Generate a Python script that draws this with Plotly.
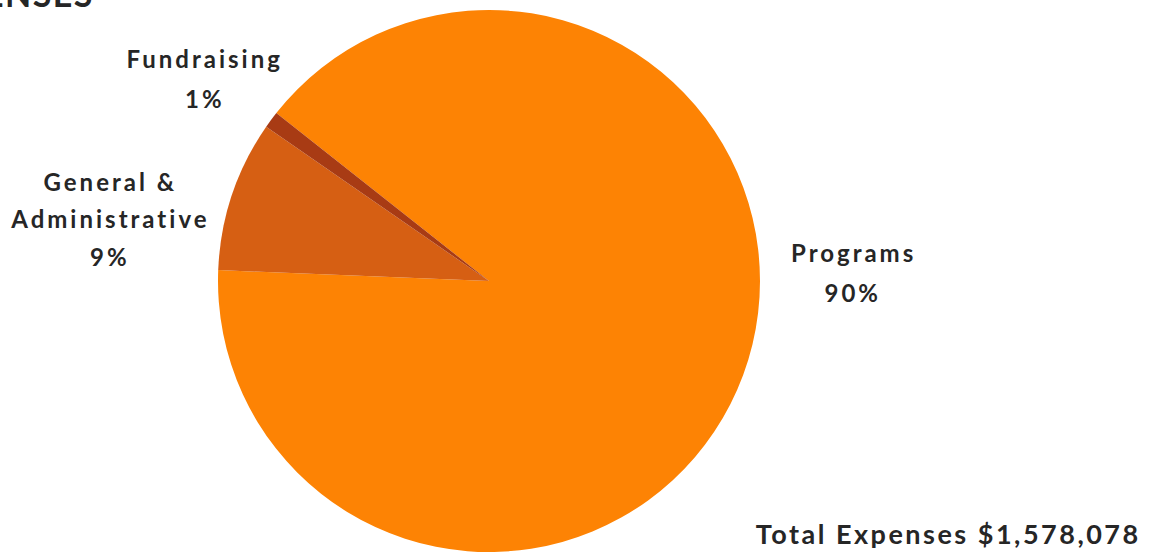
import plotly.graph_objects as go

categories = ["Programs", "General & Administrative", "Fundraising"]
values = [90, 9, 1]
colors = ["#FD8304", "#D65F13", "#A83B14"]
label_lines = [["Programs", "90%"], ["General &", "Administrative", "9%"], ["Fundraising", "1%"]]
title_text = "EXPENSES"
total_text = "Total Expenses $1,578,078"

W, H = 1159, 552
font_family = "Lato, 'Open Sans', sans-serif"
text_color = "#262626"

fig = go.Figure()
fig.add_trace(go.Pie(
    labels=categories,
    values=values,
    marker=dict(colors=colors, line=dict(width=0)),
    sort=False,
    direction="clockwise",
    rotation=-51.7,
    textinfo="none",
    hoverinfo="label+percent",
    showlegend=False,
    domain=dict(x=[218 / W, 760 / W], y=[0, 542 / H]),
))

# (center x, first-line center y, line step) in pixels for each label block
label_pos = [(853, 252, 40), (110, 181, 37.5), (205, 58, 40)]
for lines, (px, py, step) in zip(label_lines, label_pos):
    for i, line in enumerate(lines):
        fig.add_annotation(
            x=px / W, y=1 - (py + i * step) / H, xref="paper", yref="paper",
            text=f"<b>{line}</b>", showarrow=False, align="center",
            xanchor="center", yanchor="middle",
            font=dict(family=font_family, size=24, color=text_color),
        )

fig.add_annotation(
    x=948 / W, y=1 - 533 / H, xref="paper", yref="paper",
    text=f"<b>{total_text}</b>", showarrow=False,
    xanchor="center", yanchor="middle",
    font=dict(family=font_family, size=27, color=text_color),
)

fig.add_annotation(
    x=90 / W, y=1 - 16 / H, xref="paper", yref="paper",
    text=f"<b>{title_text}</b>", showarrow=False,
    xanchor="right", yanchor="bottom",
    font=dict(family=font_family, size=34, color=text_color),
)

fig.update_layout(
    width=W, height=H,
    margin=dict(l=0, r=0, t=0, b=0),
    paper_bgcolor="white", plot_bgcolor="white",
)

post = """
var gd = document.getElementById('{plot_id}');
function spaceText(){
  gd.querySelectorAll('.annotation-text').forEach(function(t){
    var fs = parseFloat(t.style.fontSize) || 24;
    t.style.letterSpacing = (fs >= 30 ? 1.5 : (fs >= 27 ? 2.5 : 3)) + 'px';
  });
}
spaceText();
gd.on('plotly_afterplot', spaceText);
"""

fig.write_html("out.html", post_script=post)
